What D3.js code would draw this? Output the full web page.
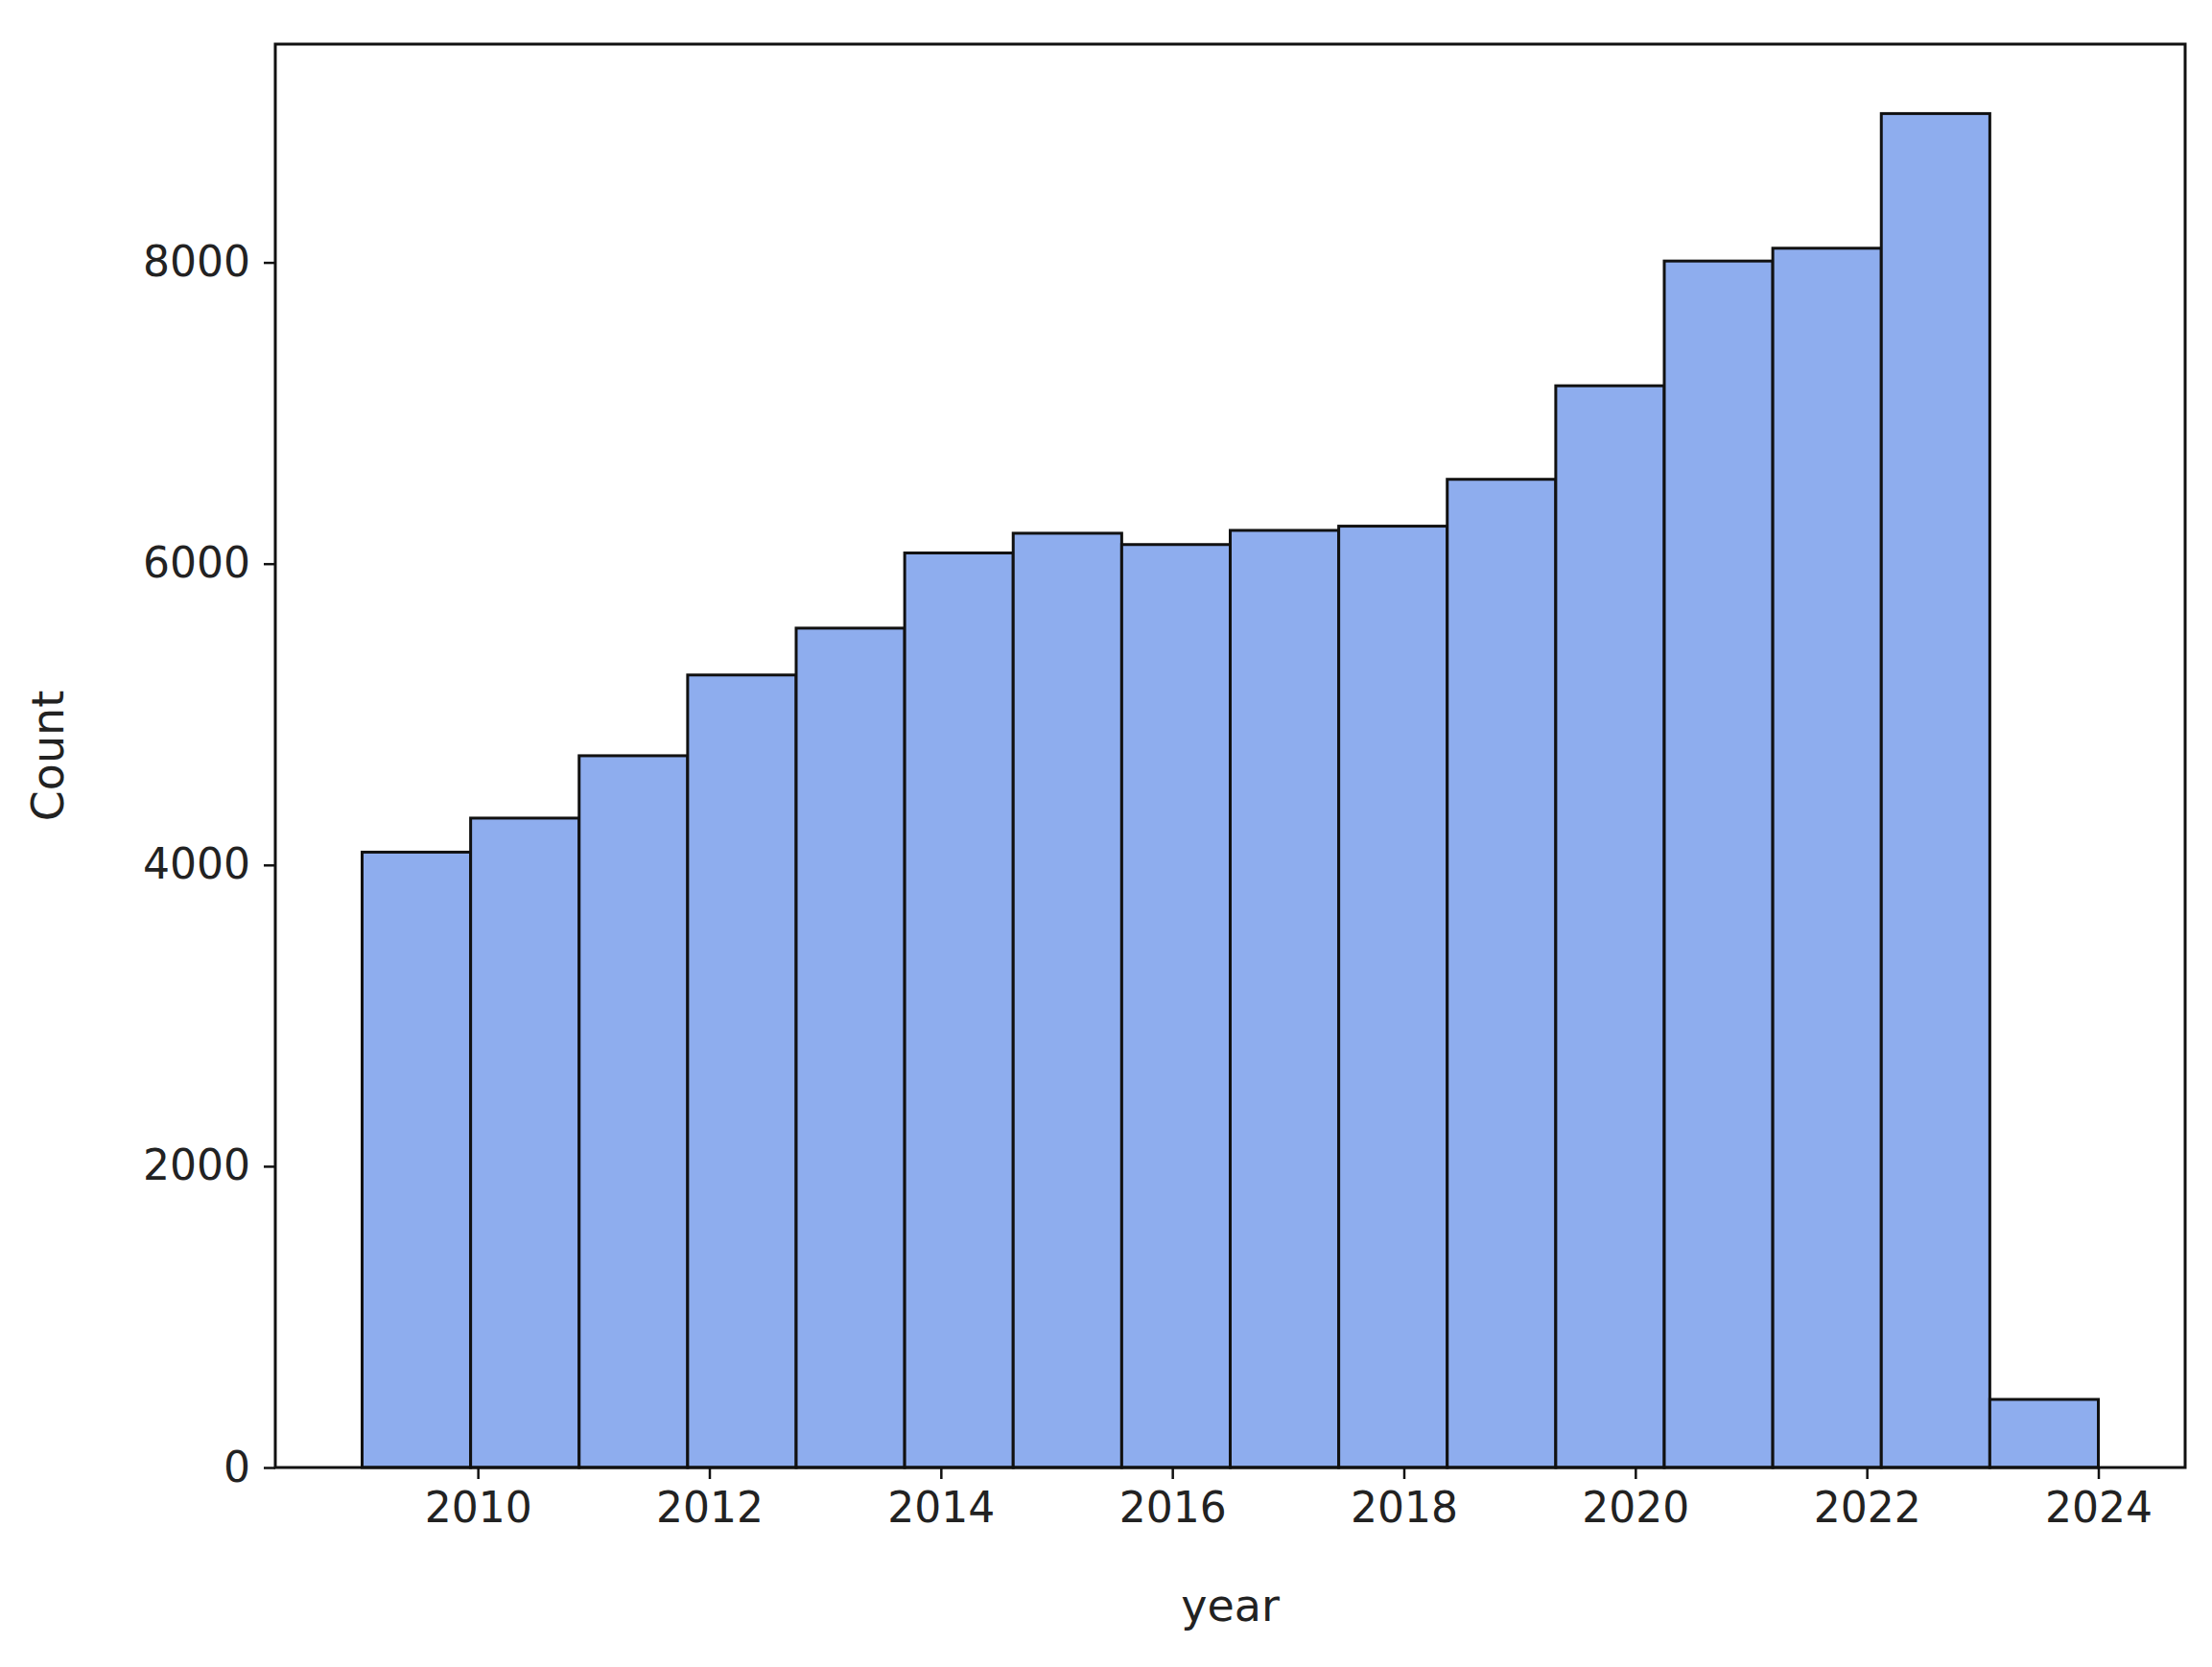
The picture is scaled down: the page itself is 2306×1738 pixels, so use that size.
<!DOCTYPE html>
<html>
<head>
<meta charset="utf-8">
<script src="https://cdn.jsdelivr.net/npm/d3@7"></script>
<style>
  body { margin: 0; background: #fff; }
  text { font-family: "DejaVu Sans", sans-serif; fill: #222; }
</style>
</head>
<body>
<script>
// histogram of records per year, 16 bins between 2009 and 2024
var binStart = 2009, binEnd = 2024;
var counts = [4085, 4311, 4725, 5261, 5572, 6071, 6202, 6127, 6221, 6249, 6560, 7181, 8009, 8094, 8988, 452];
var xTicks = [2010, 2012, 2014, 2016, 2018, 2020, 2022, 2024];
var yTicks = [0, 2000, 4000, 6000, 8000];

var W = 2306, H = 1738;
var mLeft = 287, mRight = 2278, mTop = 46, mBottom = 1530;

var svg = d3.select("body").append("svg").attr("width", W).attr("height", H);

var x = d3.scaleLinear().domain([2008.25, 2024.75]).range([mLeft, mRight]);
var y = d3.scaleLinear().domain([0, 9449]).range([mBottom, mTop]);

var binW = (binEnd - binStart) / counts.length;
var bins = counts.map(function(c, i){ return {x0: binStart + i*binW, x1: binStart + (i+1)*binW, c: c}; });

svg.selectAll("rect.bar").data(bins).enter().append("rect")
  .attr("class", "bar")
  .attr("x", function(d){ return x(d.x0); })
  .attr("width", function(d){ return x(d.x1) - x(d.x0); })
  .attr("y", function(d){ return y(d.c); })
  .attr("height", function(d){ return mBottom - y(d.c); })
  .attr("fill", "#8eadee")
  .attr("stroke", "#111")
  .attr("stroke-width", 3);

var xAxis = svg.append("g").attr("transform", "translate(0," + mBottom + ")")
  .call(d3.axisBottom(x).tickValues(xTicks).tickFormat(d3.format("d")).tickSize(12).tickPadding(14));
var yAxis = svg.append("g").attr("transform", "translate(" + mLeft + ",0)")
  .call(d3.axisLeft(y).tickValues(yTicks).tickFormat(d3.format("d")).tickSize(12).tickPadding(14));

[xAxis, yAxis].forEach(function(g){
  g.select(".domain").remove();
  g.selectAll("line").attr("stroke", "#111").attr("stroke-width", 2.5);
  g.selectAll("text").style("font-size", "44px").attr("fill", "#222");
});

// frame
svg.append("rect").attr("x", mLeft).attr("y", mTop)
  .attr("width", mRight - mLeft).attr("height", mBottom - mTop)
  .attr("fill", "none").attr("stroke", "#111").attr("stroke-width", 3);

svg.append("text").attr("x", (mLeft + mRight)/2).attr("y", 1690)
  .attr("text-anchor", "middle").style("font-size", "46px").text("year");
svg.append("text").attr("transform", "translate(66," + (mTop + mBottom)/2 + ") rotate(-90)")
  .attr("text-anchor", "middle").style("font-size", "46px").text("Count");
</script>
</body>
</html>
